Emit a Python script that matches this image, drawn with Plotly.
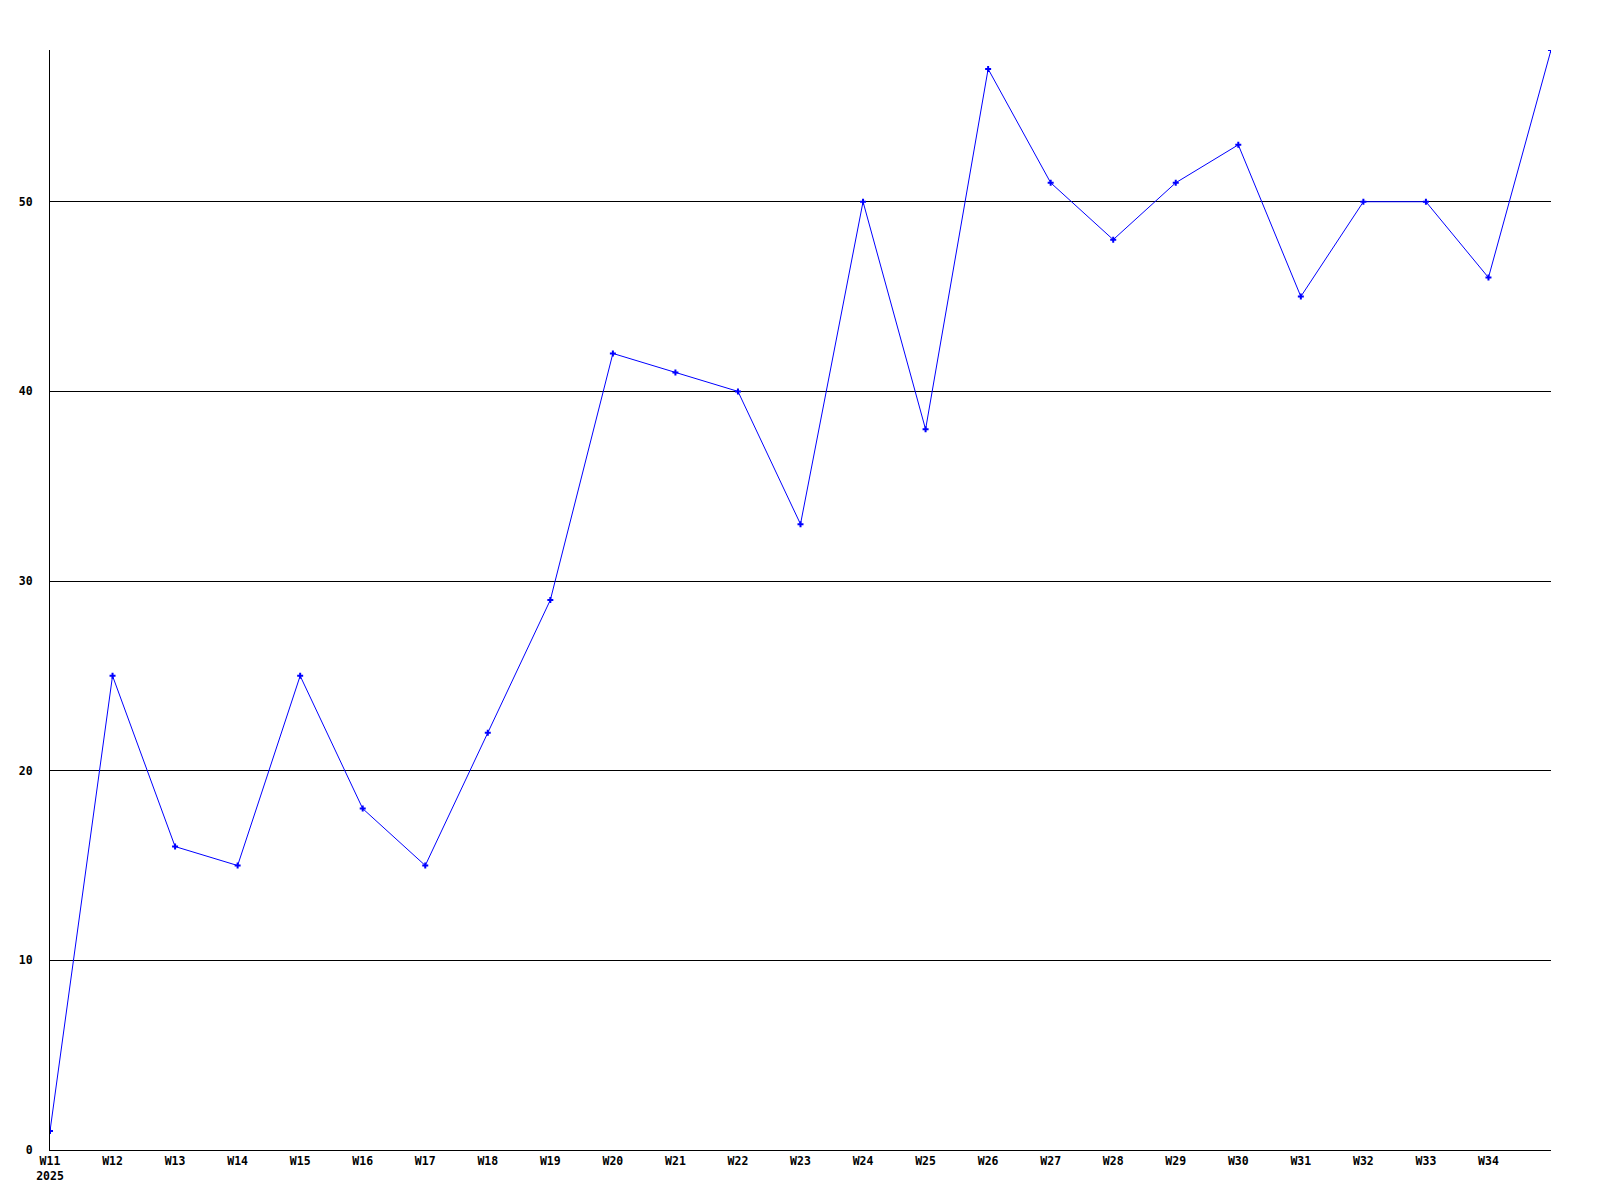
import plotly.graph_objects as go

weeks = ["W11", "W12", "W13", "W14", "W15", "W16", "W17", "W18", "W19", "W20",
         "W21", "W22", "W23", "W24", "W25", "W26", "W27", "W28", "W29", "W30",
         "W31", "W32", "W33", "W34", "W35"]
values = [1, 25, 16, 15, 25, 18, 15, 22, 29, 42,
          41, 40, 33, 50, 38, 57, 51, 48, 51, 53,
          45, 50, 50, 46, 58]
tick_labels = ["W11<br>2025", "W12", "W13", "W14", "W15", "W16", "W17", "W18", "W19", "W20",
               "W21", "W22", "W23", "W24", "W25", "W26", "W27", "W28", "W29", "W30",
               "W31", "W32", "W33", "W34", ""]
y_ticks = [0, 10, 20, 30, 40, 50]

x_idx = list(range(len(weeks)))

fig = go.Figure()
fig.add_trace(go.Scatter(
    x=x_idx, y=values, mode="lines+markers",
    line=dict(color="#0000ff", width=1),
    marker=dict(symbol="cross", size=5, color="#0000ff", line=dict(width=0)),
    showlegend=False, hoverinfo="skip",
))

font = dict(family="DejaVu Sans Mono", size=11.5, color="black", weight="bold")

fig.update_layout(
    width=1584, height=1184,
    margin=dict(l=42, r=41, t=42, b=42, autoexpand=False),
    paper_bgcolor="white", plot_bgcolor="white",
    font=font,
    xaxis=dict(
        range=[0, len(weeks) - 1],
        tickmode="array", tickvals=x_idx, ticktext=tick_labels,
        showgrid=False, zeroline=False,
        showline=True, linecolor="black", linewidth=1,
        ticks="", tickfont=font, automargin=False,
    ),
    yaxis=dict(
        range=[0, max(values)],
        tickmode="array", tickvals=y_ticks,
        showgrid=True, gridcolor="black", gridwidth=1,
        zeroline=False,
        showline=True, linecolor="black", linewidth=1,
        ticks="", tickfont=font, ticklabelstandoff=14, automargin=False,
    ),
)

fig.write_html("out.html")
